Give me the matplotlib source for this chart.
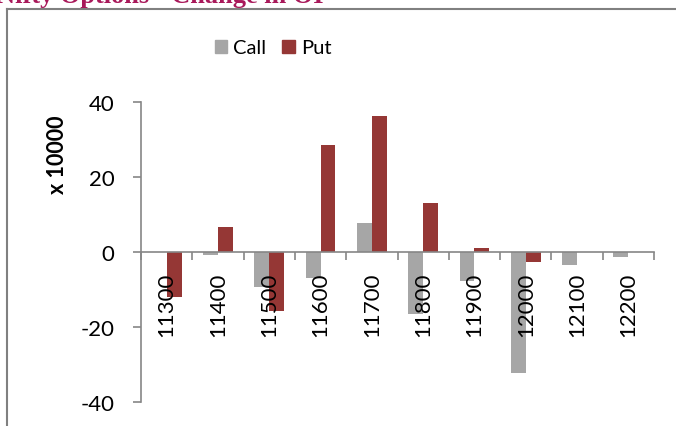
import numpy as np
import matplotlib.pyplot as plt
from matplotlib.patches import Patch
from matplotlib.lines import Line2D

strikes = ['11300', '11400', '11500', '11600', '11700', '11800', '11900', '12000', '12100', '12200']
call_oi = [0, -0.8, -9.2, -7.0, 7.7, -16.4, -7.6, -32.3, -3.5, -1.4]
put_oi = [-12.0, 6.7, -15.6, 28.5, 36.3, 13.0, 1.2, -2.6, 0, 0]

call_color = '#A6A6A6'
put_color = '#953735'
axis_color = '#868686'

plt.rcParams['font.family'] = ['Lato', 'DejaVu Sans']
plt.rcParams['axes.unicode_minus'] = False

fig = plt.figure(figsize=(6.76, 4.27), dpi=100)
ax = fig.add_axes([141/676, 24/427, 513/676, 300/427])

x = np.arange(len(strikes))
w = 0.29
ax.bar(x - w/2, call_oi, w, color=call_color, label='Call')
ax.bar(x + w/2, put_oi, w, color=put_color, label='Put')

ax.set_xlim(-0.5, len(strikes) - 0.5)
ax.set_ylim(-40, 40)
ax.set_yticks([-40, -20, 0, 20, 40])
ax.tick_params(axis='y', labelsize=16, length=6, color=axis_color, width=1.2, pad=13)

# x axis at zero, ticks at category boundaries
ax.spines['bottom'].set_position(('data', 0))
for s in ['top', 'right']:
    ax.spines[s].set_visible(False)
for s in ['left', 'bottom']:
    ax.spines[s].set_color(axis_color)
    ax.spines[s].set_linewidth(1.2)
ax.set_xticks(np.arange(len(strikes) + 1) - 0.5)
ax.set_xticklabels([])
ax.tick_params(axis='x', length=6, color=axis_color, width=1.2)
for i, s in enumerate(strikes):
    ax.text(i, -5.2, s, rotation=90, ha='center', va='top', fontsize=16)

fig.text(58/676, 1 - 155/427, 'x 10000', rotation=90, ha='center', va='center',
         fontsize=15.5, fontweight='bold')

handles = [Patch(color=call_color), Patch(color=put_color)]
fig.legend(handles, ['Call', 'Put'], loc='center', bbox_to_anchor=(273/676, 1 - 49/427),
           ncol=2, frameon=False, fontsize=14.5, handlelength=0.62, handleheight=0.62,
           handletextpad=0.3, columnspacing=0.8)

# outer frame (only left and top edges visible)
fig.add_artist(Line2D([6.5/676, 6.5/676], [0, 1 - 9.5/427], color='#808080', lw=1.5))
fig.add_artist(Line2D([6.5/676, 1], [1 - 9.5/427, 1 - 9.5/427], color='#808080', lw=1.5))

fig.text(-4/676, 1 - 3.5/427, 'Nifty Options - Change in OI', ha='left', va='baseline',
         fontsize=19, fontweight='bold', color='#A8195A', family='Liberation Serif')

fig.savefig('out.png', dpi=100)
